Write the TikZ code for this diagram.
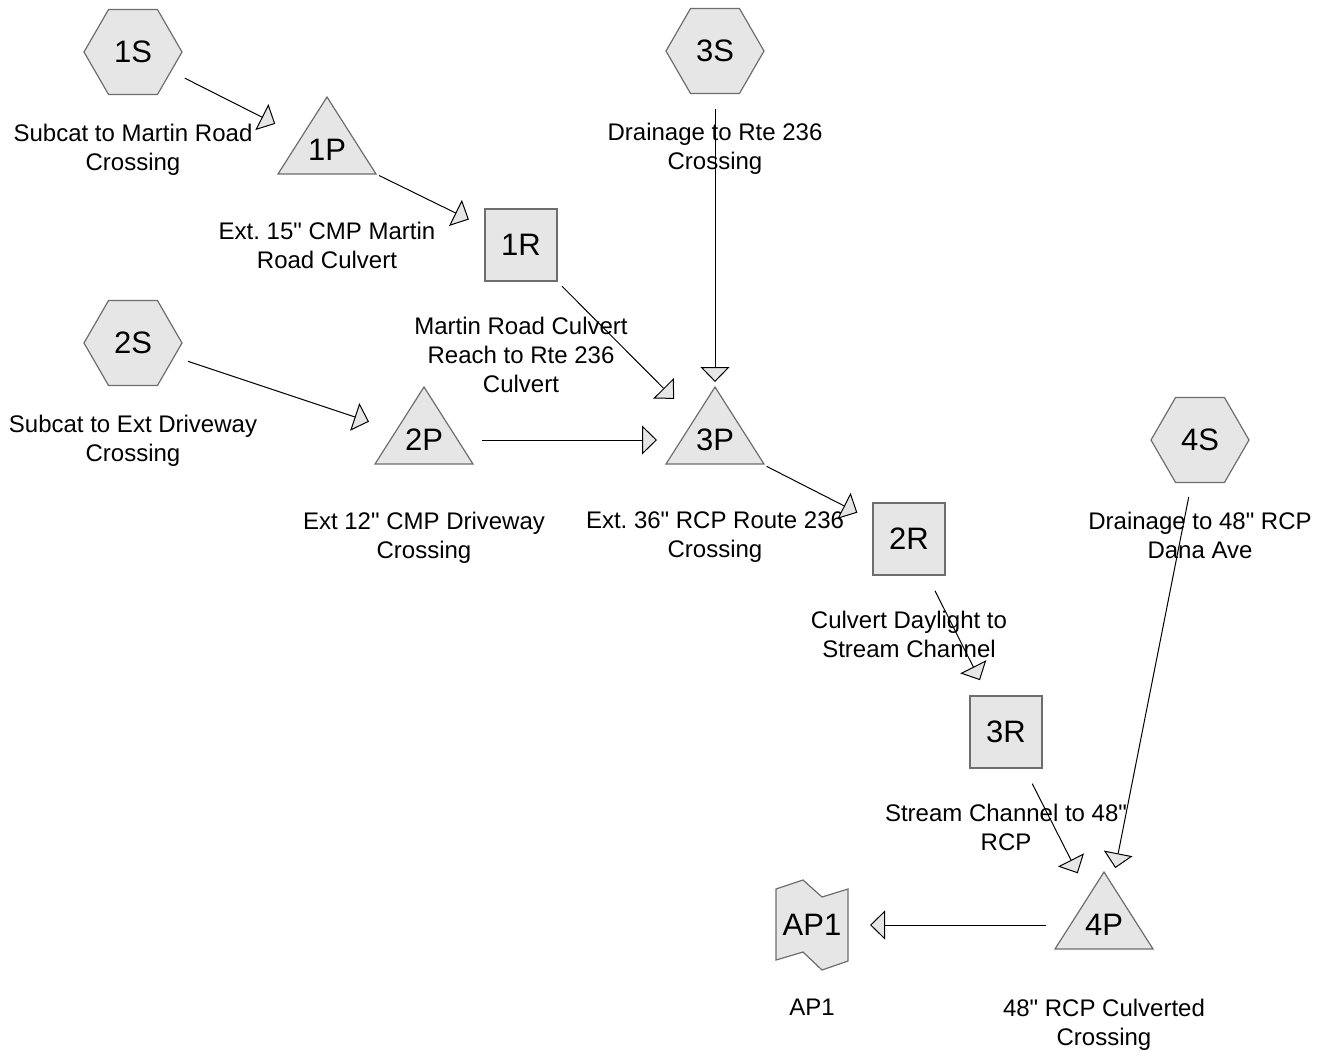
\documentclass[tikz,border=0pt]{standalone}
\usepackage{fontspec}
\setmainfont{Liberation Sans}
\frenchspacing
\usetikzlibrary{arrows.meta, positioning, shapes.geometric}
\definecolor{hcfill}{HTML}{E6E6E6}
\definecolor{hcline}{HTML}{6E6E6E}
\tikzset{
  unit/.style={fill=hcfill, draw=hcline, line width=0.6pt},
  ntext/.style={font=\fontsize{15.5}{18}\selectfont, inner sep=0pt},
  subcat/.style={unit, ntext, regular polygon, regular polygon sides=6, minimum size=49pt},
  reach/.style={unit, ntext, rectangle, minimum size=36pt},
  caption/.style={font=\fontsize{12}{14.5}\selectfont, align=center, inner sep=0pt, anchor=north},
  flow/.style={line width=0.5pt, shorten <=29pt, shorten >=29pt,
    -{Triangle[length=7.5pt, width=14.5pt, fill=hcfill]}},
}
\begin{document}
\begin{tikzpicture}[x=0.5pt, y=-0.5pt]
  \useasboundingbox (0,0) rectangle (1328,1050);
  % Subcatchments
  \node[subcat] (1S) at (133,52) {1S};
  \node[subcat] (2S) at (133,343) {2S};
  \node[subcat] (3S) at (715,51) {3S};
  \node[subcat] (4S) at (1200,440) {4S};
  % Ponds
  \foreach \id/\x/\y in {1P/327/150, 2P/424/440, 3P/715/440, 4P/1104/925} {
    \filldraw[unit, shift={(\x,\y)}] (-49,24) -- (0,-53) -- (49,24) -- cycle;
    \node[ntext] (\id) at (\x,\y) {\id};
  }
  % Reaches
  \node[reach] (1R) at (521,245) {1R};
  \node[reach] (2R) at (909,539) {2R};
  \node[reach] (3R) at (1006,732) {3R};
  % Link
  \filldraw[unit, shift={(812,925)}] (-36,-36) -- (-9,-45) -- (10,-28) -- (36,-36)
    -- (36,36) -- (10,45) -- (-9,27) -- (-36,35) -- cycle;
  \node[ntext] (AP1) at (812,925) {AP1};
  % Captions
  \node[caption, below=35.7pt of 1S.center] (c1S) {Subcat to Martin Road\\Crossing};
  \node[caption, below=35.7pt of 2S.center] (c2S) {Subcat to Ext Driveway\\Crossing};
  \node[caption, below=35.7pt of 3S.center] (c3S) {Drainage to Rte 236\\Crossing};
  \node[caption, below=35.7pt of 4S.center] (c4S) {Drainage to 48\textquotedbl{} RCP\\Dana Ave};
  \node[caption, below=35.7pt of 1P.center] (c1P) {Ext. 15\textquotedbl{} CMP Martin\\Road Culvert};
  \node[caption, below=35.7pt of 2P.center] (c2P) {Ext 12\textquotedbl{} CMP Driveway\\Crossing};
  \node[caption, below=35.7pt of 3P.center] (c3P) {Ext. 36\textquotedbl{} RCP Route 236\\Crossing};
  \node[caption, below=36.7pt of 4P.center] (c4P) {48\textquotedbl{} RCP Culverted\\Crossing};
  \node[caption, below=35.7pt of 1R.center] (c1R) {Martin Road Culvert\\Reach to Rte 236\\Culvert};
  \node[caption, below=35.7pt of 2R.center] (c2R) {Culvert Daylight to\\Stream Channel};
  \node[caption, below=35.7pt of 3R.center] (c3R) {Stream Channel to 48\textquotedbl\\RCP};
  \node[caption, below=36.7pt of AP1.center] (cAP1) {AP1};
  % Routing
  \draw[flow] (1S.center) -- (1P.center);
  \draw[flow] (1P.center) -- (1R.center);
  \draw[flow] (1R.center) -- (3P.center);
  \draw[flow] (3S.center) -- (3P.center);
  \draw[flow] (2S.center) -- (2P.center);
  \draw[flow] (2P.center) -- (3P.center);
  \draw[flow] (3P.center) -- (2R.center);
  \draw[flow] (2R.center) -- (3R.center);
  \draw[flow] (3R.center) -- (4P.center);
  \draw[flow] (4S.center) -- (4P.center);
  \draw[flow] (4P.center) -- (AP1.center);
\end{tikzpicture}
\end{document}
